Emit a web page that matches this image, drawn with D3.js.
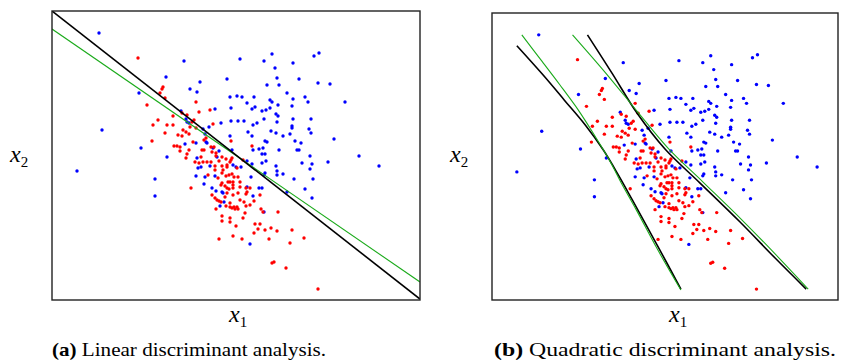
<!DOCTYPE html>
<html>
<head>
<meta charset="utf-8">
<script src="https://cdn.jsdelivr.net/npm/d3@7"></script>
<style>
  body { margin: 0; background: #fff; }
  svg { display: block; }
</style>
</head>
<body>
<div id="chart"></div>
<script>

// class 1 (blue) samples, [x1, x2]
var bluePts = [
  [47,267],[132,239],[188,241],[114,223],[148,218],[175,221],[138,211],[145,208],[87,207],[178,203],
  [185,204],[163,191],[179,192],[129,189],[134,181],[135,178],[137,177],[179,179],[186,179],[169,177],
  [157,173],[151,171],[50,170],[153,166],[178,164],[154,158],[155,157],[144,157],[133,156],[89,152],
  [161,152],[180,150],[115,143],[145,142],[165,143],[167,149],[220,246],[212,239],[262,244],[267,247],
  [223,232],[241,237],[225,222],[247,221],[266,217],[278,216],[215,215],[227,215],[235,207],[190,203],
  [202,203],[253,203],[218,200],[220,198],[241,201],[256,198],[293,198],[195,197],[226,195],[240,194],
  [203,193],[200,191],[218,192],[214,190],[210,189],[224,186],[226,184],[212,181],[241,181],[259,181],
  [192,179],[205,177],[201,175],[225,178],[240,174],[240,172],[257,171],[196,168],[219,169],[224,167],
  [259,167],[238,166],[231,164],[200,164],[282,161],[243,159],[213,159],[215,158],[249,157],[211,152],
  [207,151],[245,150],[247,150],[227,150],[201,150],[210,146],[213,146],[258,144],[307,144],[181,135],
  [184,133],[189,133],[195,139],[200,136],[210,137],[214,139],[224,134],[225,129],[225,125],[231,126],
  [250,137],[260,136],[258,131],[213,127],[212,125],[199,123],[242,121],[261,121],[195,113],[207,112],
  [210,112],[253,111],[235,108],[260,102],[201,104],[212,88],[198,56],[276,138],[327,134],[25,129],
  [103,121],[103,104],[146,132],[149,133],[158,134],[144,124],[153,123],[152,116],[163,124],[160,112],
  [164,109],[170,108],[171,107],[172,98],[168,94]
];

// class 2 (red) samples, [x1, x2]
var redPts = [
  [86,242],[111,213],[110,211],[108,207],[113,202],[144,198],[95,195],[158,190],[147,188],[130,187],
  [135,185],[121,184],[161,176],[106,180],[142,180],[140,178],[101,175],[115,175],[121,175],[138,173],
  [144,172],[131,170],[134,168],[113,167],[137,166],[126,165],[130,164],[154,162],[152,160],[100,159],
  [141,158],[122,154],[125,154],[128,153],[137,150],[128,149],[150,150],[152,150],[159,153],[162,153],
  [135,146],[149,143],[134,142],[160,148],[164,144],[180,142],[200,154],[179,159],[143,138],[147,137],
  [151,138],[155,138],[159,138],[163,134],[163,130],[164,147],[170,143],[174,141],[179,140],[170,134],
  [171,130],[175,133],[174,124],[177,125],[170,127],[166,122],[176,118],[170,117],[178,118],[169,115],
  [173,114],[175,112],[181,112],[182,123],[139,112],[156,125],[160,105],[163,102],[165,100],[167,99],
  [169,98],[173,103],[175,107],[174,94],[164,91],[170,84],[170,79],[178,82],[178,78],[184,74],
  [181,64],[167,61],[178,93],[182,93],[183,91],[167,139],[178,138],[175,135],[185,132],[191,140],
  [180,126],[181,118],[188,118],[186,123],[181,115],[188,113],[177,111],[194,112],[198,112],[195,108],
  [194,106],[186,107],[181,105],[208,105],[188,100],[178,97],[202,99],[192,98],[198,95],[194,94],
  [185,93],[186,91],[180,92],[209,91],[211,88],[226,88],[193,87],[191,82],[203,76],[208,76],
  [206,71],[213,70],[219,72],[225,69],[240,70],[202,67],[190,61],[217,61],[252,62],[238,57],
  [222,38],[220,37],[234,32],[266,11]
];

// (a) linear boundaries: estimated (black) and true (green)
var ldaEstimated = [[0,289],[368,1]];
var ldaTrue = [[0,271],[368,18]];

// (b) quadratic boundaries, two branches each
var qdaEstLeft = [[25,256],[51,227],[73,201],[94,176],[112,151],[127,126],[141,101],[169,50],[190,11]];
var qdaTrueLeft = [[30,267],[49,242],[68,217],[87,191],[103,166],[118,141],[131,116],[145,91],[167,50],[190,10]];
var qdaEstRight = [[96,267],[121,228],[146,188],[174,152],[209,118],[249,79],[285,42],[316,11]];
var qdaTrueRight = [[81,267],[114,229],[146,190],[177,153],[212,119],[252,80],[288,43],[318,11]];

var captionLetters = ["(a)", "(b)"];
var captionTexts = [" Linear discriminant analysis.", " Quadratic discriminant analysis."];

var width = 852, height = 361;
var serif = "'Liberation Serif', 'DejaVu Serif', serif";

var svg = d3.select("#chart").append("svg")
  .attr("width", width)
  .attr("height", height);

var panels = [
  { left: 52, right: 420, top: 11, bottom: 300, xmax: 368, xlab: 229, capW: 274,
    lines: [[ldaTrue, "#1aaa1a", 1.1], [ldaEstimated, "#000", 1.6]] },
  { left: 492, right: 838, top: 13, bottom: 300, xmax: 348, xlab: 669, capW: 342,
    lines: [[qdaEstLeft, "#000", 1.6], [qdaEstRight, "#000", 1.6],
            [qdaTrueLeft, "#1aaa1a", 1.1], [qdaTrueRight, "#1aaa1a", 1.1]] }
];

panels.forEach(function(p, i) {
  var x = d3.scaleLinear().domain([0, p.xmax]).range([p.left, p.right]);
  var y = d3.scaleLinear().domain([0, 289]).range([p.bottom, p.top]);

  var g = svg.append("g");

  g.append("clipPath").attr("id", "clip" + i)
    .append("rect")
    .attr("x", p.left).attr("y", p.top)
    .attr("width", p.right - p.left).attr("height", p.bottom - p.top);

  var body = g.append("g").attr("clip-path", "url(#clip" + i + ")");

  body.selectAll("circle.b")
    .data(bluePts)
    .enter().append("circle")
    .attr("class", "b")
    .attr("cx", function(d) { return x(d[0]); })
    .attr("cy", function(d) { return y(d[1]); })
    .attr("r", 1.7)
    .style("fill", "#0000ff");

  body.selectAll("circle.r")
    .data(redPts)
    .enter().append("circle")
    .attr("class", "r")
    .attr("cx", function(d) { return x(d[0]); })
    .attr("cy", function(d) { return y(d[1]); })
    .attr("r", 1.7)
    .style("fill", "#ff0000");

  var line = d3.line()
    .x(function(d) { return x(d[0]); })
    .y(function(d) { return y(d[1]); })
    .curve(d3.curveCatmullRom.alpha(0.5));

  p.lines.forEach(function(l) {
    body.append("path")
      .attr("d", line(l[0]))
      .style("fill", "none")
      .style("stroke", l[1])
      .style("stroke-width", l[2]);
  });

  // frame
  g.append("rect")
    .attr("x", p.left).attr("y", p.top)
    .attr("width", p.right - p.left).attr("height", p.bottom - p.top)
    .style("fill", "none")
    .style("stroke", "#222")
    .style("stroke-width", 1.4);

  // axis labels
  var xl = g.append("text")
    .attr("x", p.xlab)
    .attr("y", 322)
    .style("font-family", serif)
    .style("font-size", "24px");
  xl.append("tspan").style("font-style", "italic").text("x");
  xl.append("tspan").attr("dy", 5).style("font-size", "15px").text("1");

  var yl = g.append("text")
    .attr("x", p.left - 42)
    .attr("y", 162)
    .style("font-family", serif)
    .style("font-size", "24px");
  yl.append("tspan").style("font-style", "italic").text("x");
  yl.append("tspan").attr("dy", 5).style("font-size", "15px").text("2");

  // caption
  var cap = g.append("text")
    .attr("x", p.left + (i === 0 ? 0 : 2))
    .attr("y", 356)
    .attr("textLength", p.capW)
    .attr("lengthAdjust", "spacingAndGlyphs")
    .style("font-family", serif)
    .style("font-size", "19.5px");
  cap.append("tspan").style("font-weight", "bold").text(captionLetters[i]);
  cap.append("tspan").text(captionTexts[i]);
});

</script>
</body>
</html>
